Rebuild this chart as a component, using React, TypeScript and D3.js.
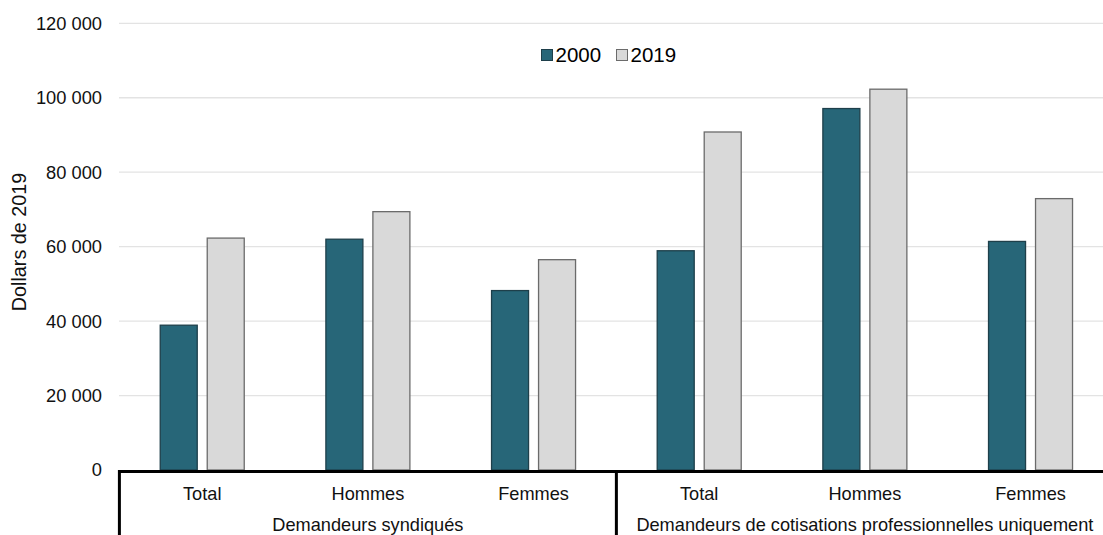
import React from "react";
import * as d3 from "d3";

const categories = ["Total", "Hommes", "Femmes", "Total", "Hommes", "Femmes"];
const groups = ["Demandeurs syndiqués", "Demandeurs de cotisations professionnelles uniquement"];
const seriesNames = ["2000", "2019"];
const values2000 = [38900, 62000, 48200, 58900, 97100, 61400];
const values2019 = [62300, 69400, 56500, 90800, 102300, 72900];
const yTicks = [0, 20000, 40000, 60000, 80000, 100000, 120000];
const yLabel = "Dollars de 2019";

const W = 1103;
const H = 535;
const FONT = "'Liberation Sans', Arial, sans-serif";
const COLORS = ["#276678", "#d9d9d9"];
const STROKES = ["#1e3f4a", "#6b6b6b"];

export default function App() {
  const x = d3
    .scaleBand<number>()
    .domain(d3.range(categories.length))
    .range([119.4, 119.4 + 165.66 * 6])
    .padding(0);
  const inner = d3
    .scaleBand<string>()
    .domain(seriesNames)
    .range([-42, 42])
    .paddingInner(10 / 47)
    .paddingOuter(0);
  const y = d3.scaleLinear().domain([0, 120000]).range([470, 23.3]);
  const fmt = (v: number) => d3.format(",")(v).replace(/,/g, " ");
  const series = [values2000, values2019];

  const groupStart = (g: number) => x(g * 3)!;
  const groupEnd = (g: number) => x(g * 3 + 2)! + x.bandwidth();

  return (
    <svg
      width={W}
      height={H}
      style={{ position: "absolute", left: 0, top: 0, background: "#fff" }}
      fontFamily={FONT}
    >
      {yTicks.filter((t) => t > 0).map((t) => (
        <line key={t} x1={119} x2={W} y1={y(t)} y2={y(t)} stroke="#e3e3e3" strokeWidth={1.3} />
      ))}
      {yTicks.map((t) => (
        <text
          key={"l" + t}
          x={102}
          y={y(t)}
          dy="0.35em"
          textAnchor="end"
          fontSize={18.3}
          fill="#111"
        >
          {fmt(t)}
        </text>
      ))}
      <text
        transform={`translate(26, 242) rotate(-90)`}
        textAnchor="middle"
        fontSize={19.8}
        fill="#111"
      >
        {yLabel}
      </text>
      {categories.map((c, i) => {
        const cx = x(i)! + x.bandwidth() / 2;
        return seriesNames.map((s, si) => {
          const v = series[si][i];
          return (
            <rect
              key={i + "-" + s}
              x={cx + inner(s)!}
              y={y(v)}
              width={inner.bandwidth()}
              height={y(0) - y(v)}
              fill={COLORS[si]}
              stroke={STROKES[si]}
              strokeWidth={1.3}
            />
          );
        });
      })}
      <line x1={118} x2={W} y1={471.5} y2={471.5} stroke="#000" strokeWidth={3} />
      {[0, 1].map((g) => (
        <line
          key={"sep" + g}
          x1={groupStart(g)}
          x2={groupStart(g)}
          y1={470}
          y2={H}
          stroke="#000"
          strokeWidth={3}
        />
      ))}
      <line x1={groupEnd(1)} x2={groupEnd(1)} y1={470} y2={H} stroke="#000" strokeWidth={3} />
      {categories.map((c, i) => (
        <text
          key={"c" + i}
          x={x(i)! + x.bandwidth() / 2}
          y={500}
          textAnchor="middle"
          fontSize={18.2}
          fill="#111"
        >
          {c}
        </text>
      ))}
      {groups.map((g, gi) => (
        <text
          key={"g" + gi}
          x={(groupStart(gi) + groupEnd(gi)) / 2}
          y={531}
          textAnchor="middle"
          fontSize={18.2}
          fill="#111"
        >
          {g}
        </text>
      ))}
      <g>
        <rect x={541.5} y={49.5} width={11} height={11} fill={COLORS[0]} stroke={STROKES[0]} strokeWidth={1} />
        <text x={555.5} y={61.8} fontSize={20.5} fill="#000">{seriesNames[0]}</text>
        <rect x={616.5} y={49.5} width={11} height={11} fill={COLORS[1]} stroke={STROKES[1]} strokeWidth={1} />
        <text x={630.5} y={61.8} fontSize={20.5} fill="#000">{seriesNames[1]}</text>
      </g>
    </svg>
  );
}
